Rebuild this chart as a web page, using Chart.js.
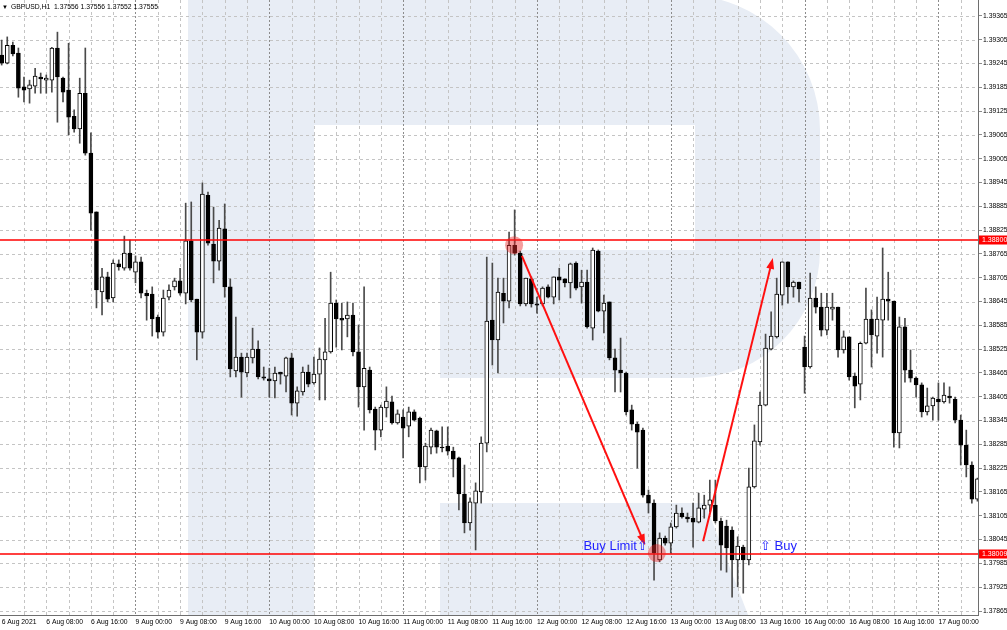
<!DOCTYPE html>
<html><head><meta charset="utf-8">
<script src="https://cdn.jsdelivr.net/npm/chart.js@4.4.1/dist/chart.umd.min.js"></script>
<style>html,body{margin:0;padding:0;background:#fff;overflow:hidden}#wrap{position:relative;width:1007px;height:630px}</style>
</head><body><div id="wrap"><canvas id="c"></canvas></div>
<script>
// ---------- DATA (GBPUSD H1) ----------
const dayNames = ['6 Aug','9 Aug','10 Aug','11 Aug','12 Aug','13 Aug','16 Aug','17 Aug'];
const opens = [1.39266,1.39246,1.39291,1.39271,1.39186,1.39181,1.39188,1.39211,1.39203,1.39203,1.39284,1.39208,1.39178,1.39112,1.39080,1.39170,1.39019,1.38871,1.38669,1.38707,1.38654,1.38740,1.38729,1.38767,
1.38719,1.38745,1.38666,1.38664,1.38606,1.38568,1.38656,1.38682,1.38697,1.38666,1.38798,1.38651,1.38568,1.38913,1.38790,1.38747,1.38828,1.38682,1.38470,1.38505,1.38465,1.38503,1.38525,1.38455,
1.38450,1.38445,1.38467,1.38457,1.38503,1.38389,1.38417,1.38467,1.38440,1.38462,1.38498,1.38518,1.38641,1.38603,1.38601,1.38611,1.38518,1.38430,1.38472,1.38374,1.38321,1.38377,1.38392,1.38339,
1.38354,1.38331,1.38367,1.38351,1.38228,1.38278,1.38319,1.38278,1.38281,1.38268,1.38251,1.38160,1.38087,1.38137,1.38165,1.38288,1.38598,1.38548,1.38666,1.38646,1.38787,1.38767,1.38639,1.38702,
1.38639,1.38639,1.38682,1.38656,1.38707,1.38702,1.38692,1.38742,1.38682,1.38694,1.38578,1.38772,1.38621,1.38644,1.38503,1.38472,1.38465,1.38372,1.38336,1.38321,1.38157,1.38137,1.37994,1.38049,
1.38036,1.38077,1.38112,1.38102,1.38099,1.38089,1.38122,1.38132,1.38132,1.38092,1.38079,1.38069,1.37994,1.38026,1.37994,1.38178,1.38291,1.38384,1.38525,1.38556,1.38661,1.38745,1.38682,1.38694,
1.38530,1.38480,1.38654,1.38631,1.38573,1.38626,1.38631,1.38523,1.38556,1.38457,1.38437,1.38540,1.38601,1.38558,1.38598,1.38651,1.38646,1.38314,1.38581,1.38472,1.38452,1.38435,1.38367,1.38382,
1.38399,1.38392,1.38407,1.38399,1.38346,1.38283,1.38233,1.38147];
const highs = [1.39304,1.39312,1.39299,1.39284,1.39211,1.39203,1.39233,1.39221,1.39216,1.39286,1.39324,1.39211,1.39296,1.39128,1.39208,1.39284,1.39070,1.38871,1.38729,1.38719,1.38750,1.38750,1.38810,1.38800,
1.38760,1.38757,1.38674,1.38682,1.38611,1.38674,1.38687,1.38704,1.38729,1.38893,1.38896,1.38651,1.38944,1.38921,1.38883,1.38850,1.38891,1.38702,1.38606,1.38515,1.38515,1.38578,1.38546,1.38480,
1.38477,1.38480,1.38467,1.38505,1.38515,1.38430,1.38480,1.38485,1.38505,1.38528,1.38603,1.38719,1.38649,1.38641,1.38644,1.38641,1.38586,1.38682,1.38480,1.38379,1.38384,1.38430,1.38407,1.38372,
1.38372,1.38379,1.38372,1.38354,1.38288,1.38326,1.38321,1.38329,1.38329,1.38278,1.38253,1.38233,1.38150,1.38188,1.38304,1.38757,1.38742,1.38704,1.38704,1.38820,1.38876,1.38772,1.38704,1.38707,
1.38656,1.38682,1.38687,1.38707,1.38729,1.38702,1.38742,1.38745,1.38724,1.38724,1.38780,1.38775,1.38661,1.38644,1.38525,1.38553,1.38467,1.38384,1.38341,1.38326,1.38170,1.38145,1.38062,1.38054,
1.38087,1.38132,1.38125,1.38112,1.38137,1.38162,1.38157,1.38195,1.38195,1.38099,1.38094,1.38077,1.38052,1.38031,1.38225,1.38334,1.38417,1.38563,1.38619,1.38704,1.38745,1.38745,1.38697,1.38694,
1.38558,1.38717,1.38682,1.38666,1.38666,1.38666,1.38631,1.38571,1.38556,1.38465,1.38543,1.38679,1.38624,1.38656,1.38780,1.38719,1.38646,1.38606,1.38603,1.38523,1.38455,1.38440,1.38427,1.38404,
1.38440,1.38440,1.38430,1.38404,1.38359,1.38321,1.38241,1.38200];
const lows = [1.39241,1.39244,1.39264,1.39160,1.39148,1.39145,1.39170,1.39170,1.39170,1.39173,1.39097,1.39148,1.39065,1.39072,1.39044,1.39014,1.38825,1.38629,1.38611,1.38644,1.38644,1.38724,1.38724,1.38724,
1.38692,1.38654,1.38598,1.38558,1.38553,1.38558,1.38649,1.38674,1.38661,1.38639,1.38644,1.38498,1.38553,1.38787,1.38692,1.38724,1.38656,1.38455,1.38455,1.38404,1.38455,1.38490,1.38450,1.38447,
1.38404,1.38402,1.38437,1.38417,1.38359,1.38356,1.38409,1.38430,1.38437,1.38397,1.38397,1.38515,1.38530,1.38523,1.38556,1.38508,1.38379,1.38321,1.38364,1.38271,1.38304,1.38354,1.38336,1.38336,
1.38251,1.38304,1.38344,1.38188,1.38195,1.38261,1.38263,1.38266,1.38258,1.38203,1.38120,1.38062,1.38069,1.38019,1.38137,1.38266,1.38485,1.38465,1.38591,1.38629,1.38762,1.38634,1.38634,1.38631,
1.38616,1.38634,1.38654,1.38639,1.38649,1.38682,1.38654,1.38674,1.38641,1.38578,1.38548,1.38619,1.38566,1.38498,1.38417,1.38417,1.38359,1.38321,1.38225,1.38152,1.38112,1.37943,1.37989,1.38031,
1.38011,1.38074,1.38099,1.38089,1.38026,1.38087,1.38099,1.38115,1.38087,1.37968,1.37963,1.37900,1.37926,1.37910,1.37981,1.38175,1.38283,1.38382,1.38523,1.38553,1.38636,1.38641,1.38656,1.38644,
1.38414,1.38477,1.38616,1.38558,1.38561,1.38598,1.38505,1.38515,1.38447,1.38377,1.38397,1.38538,1.38480,1.38515,1.38505,1.38598,1.38278,1.38276,1.38442,1.38442,1.38404,1.38354,1.38359,1.38346,
1.38346,1.38389,1.38389,1.38339,1.38233,1.38203,1.38137,1.38142];
const closes = [1.39246,1.39291,1.39269,1.39183,1.39178,1.39191,1.39213,1.39206,1.39208,1.39284,1.39211,1.39173,1.39110,1.39080,1.39170,1.39019,1.38868,1.38674,1.38707,1.38651,1.38742,1.38732,1.38767,1.38729,
1.38745,1.38666,1.38659,1.38601,1.38568,1.38654,1.38674,1.38697,1.38666,1.38798,1.38649,1.38568,1.38916,1.38792,1.38747,1.38830,1.38682,1.38475,1.38505,1.38467,1.38505,1.38525,1.38455,1.38452,
1.38445,1.38465,1.38462,1.38503,1.38389,1.38420,1.38467,1.38437,1.38462,1.38500,1.38518,1.38641,1.38601,1.38598,1.38611,1.38518,1.38430,1.38477,1.38372,1.38321,1.38379,1.38394,1.38339,1.38362,
1.38326,1.38367,1.38346,1.38228,1.38281,1.38321,1.38278,1.38276,1.38268,1.38248,1.38160,1.38087,1.38140,1.38168,1.38288,1.38596,1.38548,1.38669,1.38646,1.38787,1.38767,1.38639,1.38704,1.38639,
1.38636,1.38679,1.38656,1.38707,1.38699,1.38692,1.38740,1.38679,1.38694,1.38581,1.38775,1.38621,1.38641,1.38503,1.38472,1.38465,1.38367,1.38336,1.38316,1.38157,1.38137,1.38011,1.38049,1.38036,
1.38077,1.38112,1.38102,1.38097,1.38089,1.38125,1.38132,1.38145,1.38092,1.38031,1.38024,1.37994,1.38029,1.37994,1.38178,1.38294,1.38384,1.38528,1.38558,1.38664,1.38745,1.38682,1.38694,1.38677,
1.38480,1.38654,1.38631,1.38573,1.38631,1.38631,1.38523,1.38556,1.38455,1.38432,1.38540,1.38601,1.38561,1.38601,1.38651,1.38646,1.38314,1.38581,1.38472,1.38452,1.38435,1.38367,1.38382,1.38402,
1.38392,1.38409,1.38402,1.38346,1.38283,1.38233,1.38147,1.38198];
const yTicks = [1.37865,1.37925,1.37985,1.38045,1.38105,1.38165,1.38225,1.38285,1.38345,1.38405,1.38465,1.38525,1.38585,1.38645,1.38705,1.38765,1.38825,1.38885,1.38945,1.39005,1.39065,1.39125,1.39185,1.39245,1.39305,1.39365];
const xTickLabels = ['6 Aug 2021','6 Aug 08:00','6 Aug 16:00','9 Aug 00:00','9 Aug 08:00','9 Aug 16:00','10 Aug 00:00','10 Aug 08:00','10 Aug 16:00','11 Aug 00:00','11 Aug 08:00','11 Aug 16:00','12 Aug 00:00','12 Aug 08:00','12 Aug 16:00','13 Aug 00:00','13 Aug 08:00','13 Aug 16:00','16 Aug 00:00','16 Aug 08:00','16 Aug 16:00','17 Aug 00:00'];
const levels = [1.38800, 1.38009];
const levelLabels = ['1.38800', '1.38009'];
const arrowsData = [[93.3, 1.38760, 115.4, 1.38031], [125.8, 1.38041, 138.3, 1.38755]];
const markers = [[91.9, 1.38787], [117.5, 1.38011]];
const notes = [{text:'Buy Limit\u21E7', x:115.9, y:1.38029, align:'right'}, {text:'\u21E7 Buy', x:136.0, y:1.38029, align:'left'}];
const headerText = 'GBPUSD,H1  1.37556 1.37556 1.37552 1.37555';

// ---------- derived tables ----------
const categories = [];
dayNames.forEach(d => { for (let h = 0; h < 24; h++) categories.push(d + ' ' + String(h).padStart(2,'0') + ':00'); });
categories.length = opens.length;
const xTickIdx = xTickLabels.map((l, k) => k === 0 ? 0 : categories.indexOf(l));
const daySep = categories.map((c, i) => (i > 0 && c.endsWith(' 00:00')) ? i : -1).filter(i => i > 0);

const wickData = opens.map((o, i) => ({x: i, y: [lows[i], highs[i]]}));
const bodyData = opens.map((o, i) => ({x: i, y: [o, closes[i]]}));
const bodyFill = opens.map((o, i) => closes[i] >= o ? '#ffffff' : '#000000');

const FONT = "'Liberation Sans', Arial, sans-serif";
Chart.defaults.font.family = FONT;

const mtPlugin = {
  id: 'mt',
  beforeDraw(chart) {
    const {ctx, chartArea: a} = chart;
    ctx.save();
    ctx.fillStyle = '#fff';
    ctx.fillRect(0, 0, chart.width, chart.height);
    // watermark "R"
    const sx = (a.right - a.left) / 978, sy = (a.bottom - a.top) / 615;
    const X = v => a.left + v * sx, Y = v => a.top + v * sy;
    ctx.beginPath(); ctx.rect(a.left, a.top, a.right - a.left, a.bottom - a.top); ctx.clip();
    ctx.fillStyle = '#e8edf5';
    ctx.fillRect(X(188), Y(-5), 126 * sx, 625 * sy);
    ctx.beginPath();
    ctx.moveTo(X(314), Y(-5));
    ctx.lineTo(X(690), Y(-5));
    ctx.arcTo(X(820), Y(-5), X(820), Y(130), 135 * sx);
    ctx.lineTo(X(820), Y(250));
    ctx.arcTo(X(820), Y(378), X(692), Y(378), 128 * sx);
    ctx.lineTo(X(440), Y(378));
    ctx.lineTo(X(440), Y(250));
    ctx.lineTo(X(695), Y(250));
    ctx.lineTo(X(695), Y(125));
    ctx.lineTo(X(314), Y(125));
    ctx.closePath();
    ctx.fill();
    ctx.beginPath();
    ctx.moveTo(X(440), Y(503)); ctx.lineTo(X(705), Y(503)); ctx.lineTo(X(750), Y(620)); ctx.lineTo(X(440), Y(620));
    ctx.closePath(); ctx.fill();
    ctx.restore();
  },
  beforeDatasetsDraw(chart) {
    const {ctx, chartArea: a, scales: {x: xs, y: ys}} = chart;
    ctx.save();
    ctx.beginPath(); ctx.rect(a.left, a.top, a.right - a.left, a.bottom - a.top); ctx.clip();
    ctx.lineWidth = 1;
    ctx.strokeStyle = '#c4c4c4';
    ctx.setLineDash([3, 3]);
    ctx.beginPath();
    yTicks.forEach(v => { const y = Math.round(ys.getPixelForValue(v)) + 0.5; ctx.moveTo(a.left, y); ctx.lineTo(a.right, y); });
    for (let i = 4; i < categories.length; i += 4) {
      if (daySep.includes(i)) continue;
      const x = Math.round(xs.getPixelForValue(i)) + 0.5; ctx.moveTo(x, a.top); ctx.lineTo(x, a.bottom);
    }
    ctx.stroke();
    ctx.strokeStyle = '#8c8c8c';
    ctx.setLineDash([2, 2]);
    ctx.beginPath();
    daySep.forEach(i => { const x = Math.round(xs.getPixelForValue(i)) + 0.5; ctx.moveTo(x, a.top); ctx.lineTo(x, a.bottom); });
    ctx.stroke();
    ctx.restore();
  },
  afterDatasetsDraw(chart) {
    const {ctx, chartArea: a, scales: {x: xs, y: ys}} = chart;
    ctx.save();
    ctx.beginPath(); ctx.rect(a.left, a.top, a.right - a.left, a.bottom - a.top); ctx.clip();
    ctx.strokeStyle = '#ff0000'; ctx.lineWidth = 1.5;
    levels.forEach(v => { const y = ys.getPixelForValue(v); ctx.beginPath(); ctx.moveTo(a.left, y); ctx.lineTo(a.right, y); ctx.stroke(); });
    // markers
    ctx.fillStyle = 'rgba(235,40,40,0.45)';
    markers.forEach(([i, v]) => { ctx.beginPath(); ctx.arc(xs.getPixelForValue(i), ys.getPixelForValue(v), 9, 0, Math.PI * 2); ctx.fill(); });
    // arrows
    ctx.strokeStyle = '#ff1010'; ctx.fillStyle = '#ff1010'; ctx.lineWidth = 2;
    arrowsData.forEach(([i1, v1, i2, v2]) => {
      const x1 = xs.getPixelForValue(i1), y1 = ys.getPixelForValue(v1), x2 = xs.getPixelForValue(i2), y2 = ys.getPixelForValue(v2);
      const ang = Math.atan2(y2 - y1, x2 - x1), L = 11, w = 4;
      const c = Math.cos(ang), s = Math.sin(ang);
      ctx.beginPath(); ctx.moveTo(x1, y1); ctx.lineTo(x2 - c * L * 0.7, y2 - s * L * 0.7); ctx.stroke();
      ctx.beginPath(); ctx.moveTo(x2, y2);
      ctx.lineTo(x2 - c * L + s * w, y2 - s * L - c * w);
      ctx.lineTo(x2 - c * L - s * w, y2 - s * L + c * w);
      ctx.closePath(); ctx.fill();
    });
    // notes
    ctx.fillStyle = '#1f1fff'; ctx.font = '13px ' + FONT; ctx.textBaseline = 'middle';
    notes.forEach(n => { ctx.textAlign = n.align; ctx.fillText(n.text, xs.getPixelForValue(n.x), ys.getPixelForValue(n.y)); });
    ctx.restore();
  },
  afterDraw(chart) {
    const {ctx, chartArea: a, scales: {y: ys}} = chart;
    ctx.save();
    // price labels on axis
    ctx.font = '7px ' + FONT; ctx.textBaseline = 'middle'; ctx.textAlign = 'left';
    levels.forEach((v, k) => {
      const y = ys.getPixelForValue(v);
      ctx.fillStyle = '#ff0000'; ctx.fillRect(a.right + 1, Math.round(y) - 4.5, chart.width - a.right - 1, 9);
      ctx.fillStyle = '#ffffff'; ctx.fillText(levelLabels[k], a.right + 4, y + 0.5);
    });
    // header
    ctx.fillStyle = '#000';
    ctx.font = '6px ' + FONT; ctx.fillText('\u25BC', a.left + 2, a.top + 7);
    ctx.font = '6.8px ' + FONT; ctx.fillText(headerText, a.left + 11, a.top + 7);
    ctx.restore();
  }
};

new Chart(document.getElementById('c'), {
  type: 'bar',
  data: {
    datasets: [
      { label: 'body', data: bodyData, backgroundColor: bodyFill, borderColor: '#000', borderWidth: 1, borderSkipped: false, barThickness: 4, grouped: false, order: 0 },
      { label: 'wick', data: wickData, backgroundColor: '#4a4a4a', borderWidth: 0, barThickness: 1, grouped: false, order: 1 }
    ]
  },
  options: {
    responsive: true, maintainAspectRatio: false, animation: false,
    layout: { padding: 0 },
    plugins: { legend: { display: false }, tooltip: { enabled: false }, title: { display: false } },
    scales: {
      x: {
        type: 'linear', min: -0.3, max: 175.1, offset: false,
        afterBuildTicks: s => { s.ticks = xTickIdx.map(v => ({value: v})); },
        afterFit: s => { s.height = 15; s.paddingLeft = 0; s.paddingRight = 0; },
        grid: { display: false, drawTicks: false, tickLength: 0 },
        border: { display: true, color: '#6e6e6e', width: 1 },
        ticks: { autoSkip: false, maxRotation: 0, minRotation: 0, align: 'start', padding: 3, color: '#000',
          font: { size: 6.8, family: FONT }, callback: (v, i) => xTickLabels[i] }
      },
      y: {
        type: 'linear', position: 'right', min: 1.37855, max: 1.39405,
        afterBuildTicks: s => { s.ticks = yTicks.map(v => ({value: v})); },
        afterFit: s => { s.width = 29; s.paddingTop = 0; s.paddingBottom = 0; },
        grid: { drawOnChartArea: false, drawTicks: true, tickLength: 4, color: '#8a8a8a' },
        border: { display: true, color: '#6e6e6e', width: 1 },
        ticks: { padding: 1, color: '#000', font: { size: 6.8, family: FONT }, callback: v => Number(v).toFixed(5) }
      }
    }
  },
  plugins: [mtPlugin]
});
</script></body></html>
